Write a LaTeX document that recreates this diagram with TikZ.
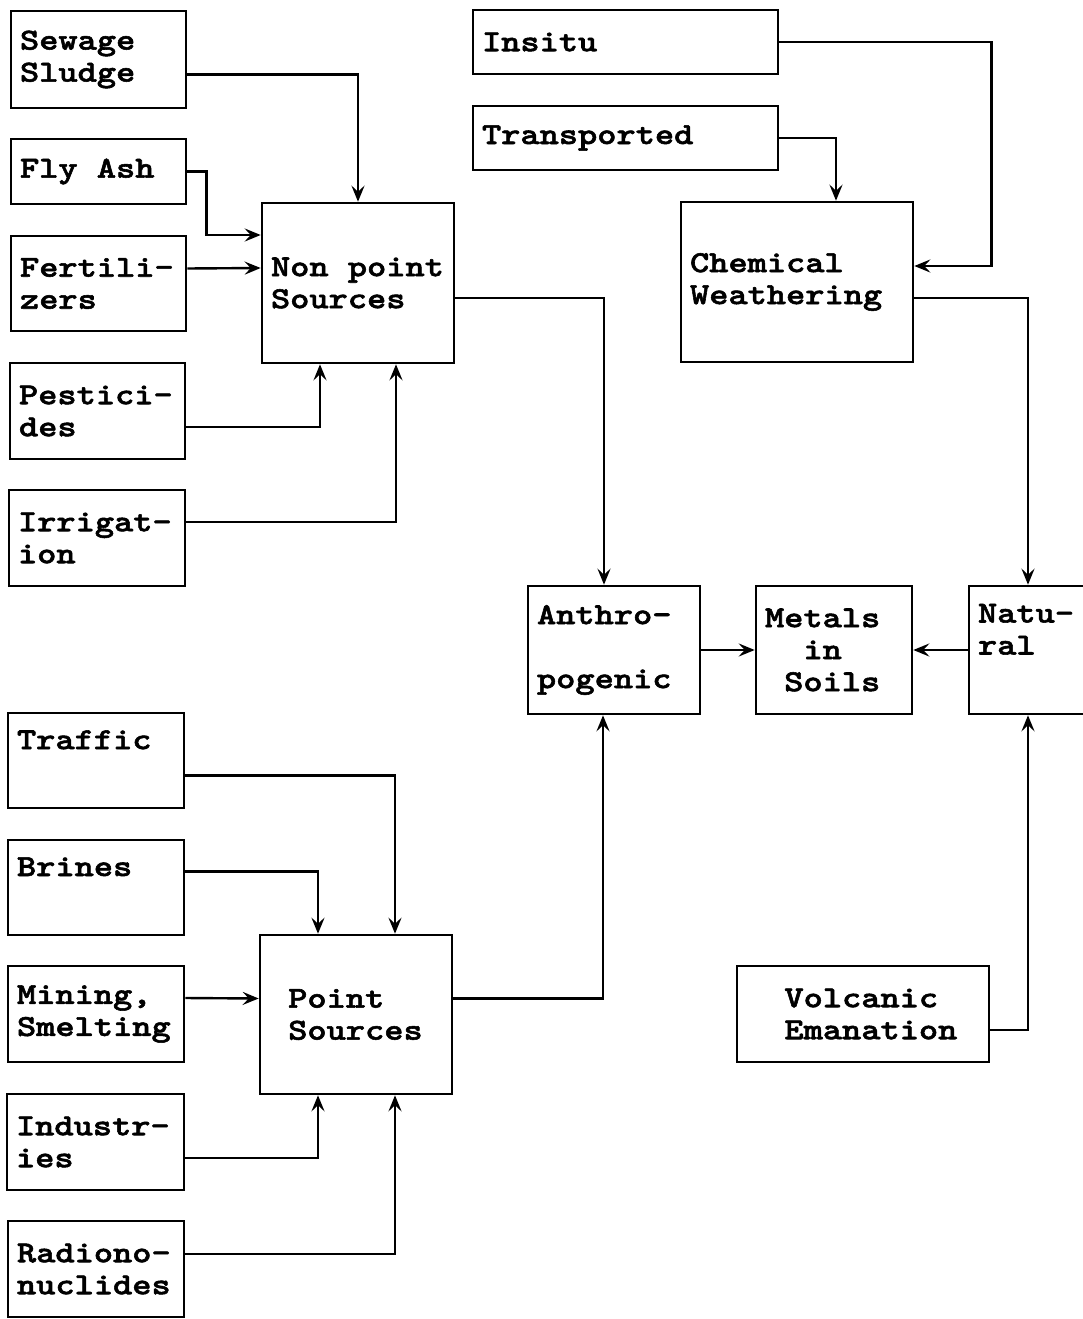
\documentclass[tikz,border=0pt]{standalone}
\usepackage{fontspec}
\newfontfamily\boxfont{lmmonolt10-bold.otf}[AutoFakeBold=1.8, FakeStretch=1.2]
\usetikzlibrary{arrows.meta}

\begin{document}
\begin{tikzpicture}[x=1pt, y=-1pt,
	box/.style={draw, line width=2.6pt, align=left, inner xsep=9pt, inner ysep=0pt,
		font=\boxfont\bfseries\fontsize{30.5}{32}\selectfont},
	arr/.style={-{Stealth[length=16pt, width=13pt, inset=6pt]}, line width=2.4pt}]
	\useasboundingbox (0,0) rectangle (1082,1319);

	% anthropogenic, non point
	\node[box, minimum width=175, text width=157, minimum height=97] (sewage) at (98.5,59.5) {Sewage\\Sludge};
	\node[box, minimum width=175, text width=157, minimum height=65] (flyash) at (98.5,171.5) {Fly\phantom{x}Ash};
	\node[box, minimum width=175, text width=157, minimum height=95] (fert) at (98.5,283.5) {Fertili-\\zers};
	\node[box, minimum width=175, text width=157, minimum height=96] (pest) at (97.5,411) {Pestici-\\des};
	\node[box, minimum width=176, text width=158, minimum height=96] (irrig) at (97,538) {Irrigat-\\ion};
	\node[box, minimum width=192, text width=174, minimum height=160] (nonpoint) at (358,283) {Non\phantom{x}point\\Sources};

	% natural
	\node[box, minimum width=305, text width=287, minimum height=64] (insitu) at (625.5,42) {Insitu};
	\node[box, minimum width=305, text width=287, minimum height=64] (transp) at (625.5,138) {Transported};
	\node[box, minimum width=232, text width=214, minimum height=160] (chem) at (797,282) {Chemical\\Weathering};

	% middle row
	\node[box, minimum width=172, text width=154, minimum height=128] (anthro) at (614,650) {Anthro-\\[32pt]pogenic};
	\node[box, minimum width=156, text width=138, minimum height=128] (metals) at (834,650) {Metals\\\phantom{xx}in\\\phantom{x}Soils};
	\node[box, minimum width=118, text width=100, minimum height=128] (natural) at (1028,650) {Natu-\\ral\\\strut};

	% anthropogenic, point
	\node[box, minimum width=176, text width=158, minimum height=95] (traffic) at (96,760.5) {Traffic\\\strut};
	\node[box, minimum width=176, text width=158, minimum height=95] (brines) at (96,887.5) {Brines\\\strut};
	\node[box, minimum width=176, text width=158, minimum height=96] (mining) at (96,1014) {Mining,\\Smelting};
	\node[box, minimum width=177, text width=159, minimum height=96] (indus) at (95.5,1142) {Industr-\\ies};
	\node[box, minimum width=176, text width=158, minimum height=96] (radio) at (96,1269) {Radiono-\\nuclides};
	\node[box, minimum width=192, text width=174, minimum height=159] (point) at (356,1014.5) {\phantom{x}Point\\\phantom{x}Sources};
	\node[box, minimum width=252, text width=234, minimum height=96] (volc) at (863,1014) {\phantom{xx}Volcanic\\\phantom{xx}Emanation};

	% connectors
	\draw[arr] ([yshift=-15]sewage.east) -| (nonpoint.north);
	\draw[arr] (flyash.east) -- ++(19,0) |- ([yshift=48]nonpoint.west);
	\draw[arr] ([yshift=15]fert.east) -- ([yshift=15]nonpoint.west);
	\draw[arr] ([yshift=-16]pest.east) -| ([xshift=-38]nonpoint.south);
	\draw[arr] ([yshift=16]irrig.east) -| ([xshift=38]nonpoint.south);
	\draw[arr] ([yshift=-15]nonpoint.east) -| ([xshift=-10]anthro.north);

	\draw[arr] (insitu.east) -- ++(212,0) |- ([yshift=16]chem.east);
	\draw[arr] (transp.east) -| ([xshift=39]chem.north);
	\draw[arr] ([yshift=-16]chem.east) -| (natural.north);

	\draw[arr] (anthro) -- (metals);
	\draw[arr] (natural) -- (metals);
	\draw[arr] ([yshift=-16]volc.east) -| (natural.south);

	\draw[arr] ([yshift=-15]traffic.east) -| ([xshift=39]point.north);
	\draw[arr] ([yshift=16]brines.east) -| ([xshift=-38]point.north);
	\draw[arr] ([yshift=16]mining.east) -- ([yshift=16]point.west);
	\draw[arr] ([yshift=-16]indus.east) -| ([xshift=-38]point.south);
	\draw[arr] ([yshift=15]radio.east) -| ([xshift=39]point.south);
	\draw[arr] ([yshift=16]point.east) -| ([xshift=-11]anthro.south);
\end{tikzpicture}
\end{document}
